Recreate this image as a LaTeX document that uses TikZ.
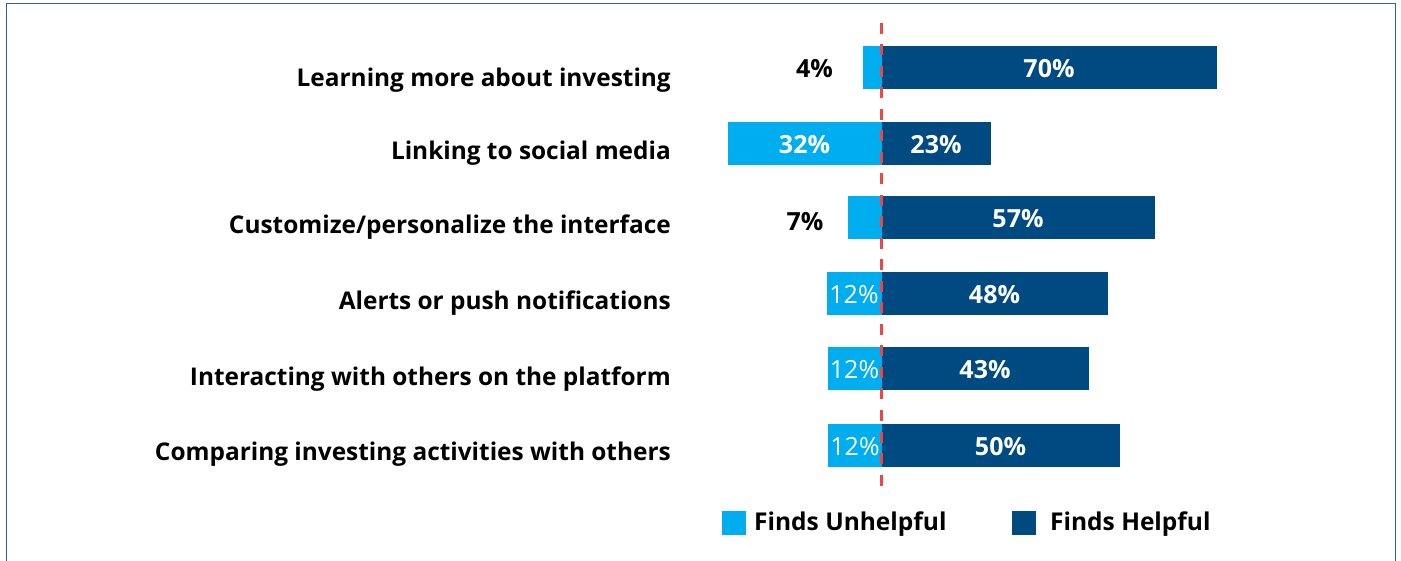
\documentclass[tikz,border=0pt]{standalone}
\usepackage{fontspec}
\setmainfont{Open Sans}
\definecolor{lightbar}{HTML}{00AEEF}
\definecolor{darkbar}{HTML}{004A82}
\definecolor{refline}{HTML}{EE4646}
\definecolor{framec}{HTML}{2F6199}
\tikzset{
  catlabel/.style={anchor=base east,inner sep=0pt,font=\fontsize{24.4}{28}\selectfont\bfseries,text=black},
  pctin/.style={inner sep=0pt,font=\fontsize{25}{28}\selectfont\bfseries,text=white},
  pctreg/.style={inner sep=0pt,font=\fontsize{25}{28}\selectfont,text=white},
  pctout/.style={inner sep=0pt,font=\fontsize{25}{28}\selectfont\bfseries,text=black},
  legtext/.style={anchor=west,inner sep=0pt,font=\fontsize{24.5}{28}\selectfont\bfseries,text=black},
}
\begin{document}
\begin{tikzpicture}[x=1pt,y=-1pt]
\useasboundingbox (0,0) rectangle (1401,561);
% frame
\draw[framec,line width=1.8pt] (6.5,570) -- (6.5,3.5) -- (1395.5,3.5) -- (1395.5,570);
% bars: top, bottom, left, right
\foreach \yt/\yb/\xl/\xr in {46/89/863/1217, 122/165/728/991, 196/239/848/1155, 272/315/827/1108, 347/390/828/1089, 424/467/828/1120}{
  \fill[lightbar] (\xl,\yt) rectangle (881.5,\yb);
  \fill[darkbar] (881.5,\yt) rectangle (\xr,\yb);
}
% category labels
\node[catlabel] (c1) at (671,86.5) {Learning more about investing};
\node[catlabel] (c2) at (671,160) {Linking to social media};
\node[catlabel] (c3) at (671,234) {Customize/personalize the interface};
\node[catlabel] (c4) at (671,310) {Alerts or push notifications};
\node[catlabel] (c5) at (671,385) {Interacting with others on the platform};
\node[catlabel] (c6) at (671,460) {Comparing investing activities with others};
% percent labels
\node[pctout] (u1) at (814.5,69) {4\%};
\node[pctin] (h1) at (1049,69) {70\%};
\node[pctin] (u2) at (804.5,145) {32\%};
\node[pctin] (h2) at (936,145) {23\%};
\node[pctout] (u3) at (805,222) {7\%};
\node[pctin] (h3) at (1018,219) {57\%};
\node[pctreg] (u4) at (854,295) {12\%};
\node[pctin] (h4) at (994.5,295) {48\%};
\node[pctreg] (u5) at (854.5,370) {12\%};
\node[pctin] (h5) at (985,370) {43\%};
\node[pctreg] (u6) at (855,447) {12\%};
\node[pctin] (h6) at (1000.5,447) {50\%};
% reference line
\coordinate (rtop) at (881.5,23);
\coordinate (rbot) at (881.5,491);
\draw[refline,line width=3pt,dash pattern=on 11pt off 10.5pt] (rtop) -- (rbot);
% legend
\fill[lightbar] (722,511) rectangle (746,535);
\node[legtext] (l1) at (754,524) {Finds Unhelpful};
\fill[darkbar] (1012,511) rectangle (1036,535);
\node[legtext] (l2) at (1050,524) {Finds Helpful};
\end{tikzpicture}
\end{document}
